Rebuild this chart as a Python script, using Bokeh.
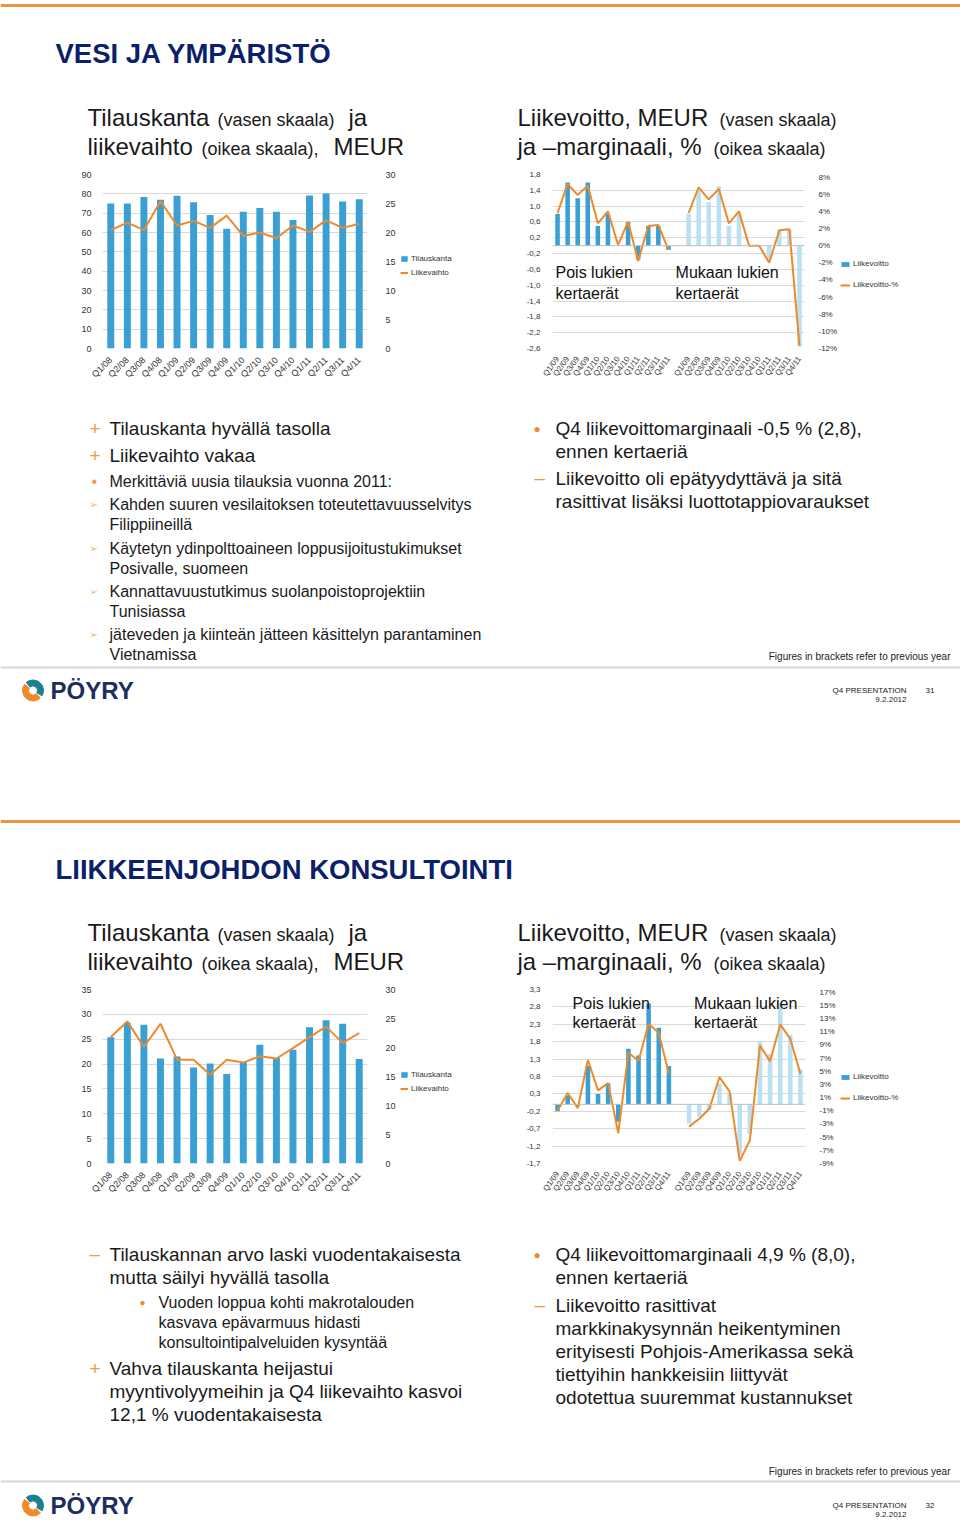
import math
from bokeh.plotting import figure
from bokeh.layouts import column, row
from bokeh.models import (Range1d, FactorRange, LinearAxis, FixedTicker, CustomJSTickFormatter,
                          Legend, LegendItem, Label, Span)
from bokeh.core.properties import value
from bokeh.embed import file_html
from bokeh.resources import INLINE

# ---------------- data ----------------
quarters_08_11 = ["Q1/08", "Q2/08", "Q3/08", "Q4/08", "Q1/09", "Q2/09", "Q3/09", "Q4/09",
                  "Q1/10", "Q2/10", "Q3/10", "Q4/10", "Q1/11", "Q2/11", "Q3/11", "Q4/11"]
quarters_09_11 = ["Q1/09", "Q2/09", "Q3/09", "Q4/09", "Q1/10", "Q2/10", "Q3/10", "Q4/10",
                  "Q1/11", "Q2/11", "Q3/11", "Q4/11"]

# Vesi ja ympäristö
vesi_tilauskanta = [75, 75, 78.3, 77, 79, 75.7, 69, 62, 70.7, 72.7, 70.7, 66.5, 79.2, 80.2, 76, 77.2]
vesi_liikevaihto = [20.4, 21.7, 20.4, 25.4, 21.2, 22.0, 20.8, 22.9, 19.4, 20.0, 19.0, 21.2, 20.1, 22.1, 20.8, 21.5]
vesi_lv_excl = [0.8, 1.6, 1.2, 1.6, 0.5, 0.8, 0.0, 0.6, -0.35, 0.5, 0.5, -0.1]
vesi_lvpct_excl = [3.8, 7.2, 5.9, 7.0, 2.6, 4.0, 0.1, 2.8, -1.8, 2.3, 2.4, -0.5]
vesi_lv_incl = [0.8, 1.4, 1.1, 1.5, 0.5, 0.8, 0.0, 0.0, -0.35, 0.4, 0.4, -2.55]
vesi_lvpct_incl = [3.8, 6.8, 5.4, 6.6, 2.6, 4.0, 0.0, 0.0, -2.0, 1.8, 1.9, -11.7]

# Liikkeenjohdon konsultointi
lj_tilauskanta = [25.4, 28.3, 27.9, 21.1, 21.5, 19.3, 20.1, 18.0, 20.4, 23.9, 21.2, 22.9, 27.4, 28.8, 28.1, 21.0]
lj_liikevaihto = [21.8, 24.5, 20.1, 24.1, 17.9, 17.9, 15.3, 17.9, 17.4, 18.5, 18.1, 19.9, 21.8, 23.6, 20.8, 22.5]
lj_lv_excl = [-0.2, 0.25, -0.05, 1.1, 0.3, 0.6, -0.5, 1.6, 1.4, 2.9, 2.2, 1.1]
lj_lvpct_excl = [-1.0, 1.7, -0.6, 6.7, 2.1, 3.2, -4.4, 7.8, 6.6, 12.2, 10.8, 4.6]
lj_lv_incl = [-0.55, -0.35, -0.15, 0.6, 0.3, -1.45, -0.85, 1.8, 1.45, 2.9, 2.0, 1.0]
lj_lvpct_incl = [-3.4, -2.2, -0.7, 4.1, 1.9, -8.6, -5.5, 8.9, 6.5, 12.1, 9.9, 4.6]

# tick labels
vesi_order_ticks = [0, 10, 20, 30, 40, 50, 60, 70, 80, 90]
lj_order_ticks = [0, 5, 10, 15, 20, 25, 30, 35]
sales_ticks = [0, 5, 10, 15, 20, 25, 30]
vesi_ebit_ticks = [-2.6, -2.2, -1.8, -1.4, -1.0, -0.6, -0.2, 0.2, 0.6, 1.0, 1.4, 1.8]
vesi_pct_ticks = [-12, -10, -8, -6, -4, -2, 0, 2, 4, 6, 8]
lj_ebit_ticks = [-1.7, -1.2, -0.7, -0.2, 0.3, 0.8, 1.3, 1.8, 2.3, 2.8, 3.3]
lj_pct_ticks = [-9, -7, -5, -3, -1, 1, 3, 5, 7, 9, 11, 13, 15, 17]

# ---------------- style ----------------
BLUE = "#3a9fd3"
LIGHT = "#b9e0f3"
ORANGE = "#ec8a2c"
BULLET = "#f29a3f"
GRID = "#d9d9d9"
AXTXT = "#333333"
NAVY = "#0c1f6b"
DARK = "#1a1a1a"
FONT = "Liberation Sans"
W = 960
NAN = float("nan")


def style_axis(ax, size="8px"):
    ax.axis_line_color = None
    ax.major_tick_line_color = None
    ax.minor_tick_line_color = None
    ax.major_label_text_font = FONT
    ax.major_label_text_font_size = size
    ax.major_label_text_color = AXTXT


def blank(width, height, xr, yr):
    p = figure(width=width, height=height, x_range=xr, y_range=yr,
               output_backend="svg", toolbar_location=None, min_border=0,
               x_axis_location=None, y_axis_location=None)
    p.grid.visible = False
    p.outline_line_color = None
    return p


def canvas(y0, h):
    return blank(W, h, Range1d(0, W), Range1d(y0 + h, y0))


def txt(p, x, y, s, size, color=DARK, align="left", bold=False, font=FONT):
    p.add_layout(Label(x=x, y=y, text=s, text_font=font, text_font_size=f"{size}px",
                       text_color=color, text_align=align, text_baseline="middle",
                       text_font_style="bold" if bold else "normal"))


def legend_fig(width, height, spec, loc, spacing, gw, gh):
    # legend-only panel: the swatches reuse the chart's styles (no visible data)
    p = blank(width, height, Range1d(0, 1), Range1d(0, 1))
    items = []
    for label, kind, color in spec:
        if kind == "bar":
            r = p.vbar(x=[NAN], top=[NAN], width=0.5, fill_color=color, line_color=None)
        else:
            r = p.line(x=[NAN, NAN], y=[NAN, NAN], line_color=color, line_width=2)
        items.append(LegendItem(label=label, renderers=[r]))
    p.add_layout(Legend(items=items, location=loc, margin=0, padding=0, spacing=spacing,
                        glyph_width=gw, glyph_height=gh, label_height=8, label_width=10,
                        label_standoff=3, label_text_font=FONT, label_text_font_size="8px",
                        label_text_color=AXTXT, label_text_baseline="middle",
                        border_line_color=None, background_fill_alpha=0))
    return p


def order_chart(h, top, lmax, lticks, bars, line):
    p = figure(width=398, height=h, x_range=FactorRange(factors=quarters_08_11),
               y_range=Range1d(0, lmax), output_backend="svg", toolbar_location=None,
               min_border_left=102, min_border_right=28, min_border_top=top,
               min_border_bottom=h - top - 180)
    p.extra_y_ranges = {"r": Range1d(0, 30)}
    p.outline_line_color = None
    p.xgrid.grid_line_color = None
    tk = FixedTicker(ticks=lticks)
    p.yaxis.ticker = tk
    p.ygrid.ticker = tk
    p.ygrid.grid_line_color = GRID
    style_axis(p.yaxis[0], "9px")
    p.yaxis.major_label_standoff = 5
    style_axis(p.xaxis[0], "9px")
    p.xaxis.major_label_orientation = math.pi / 4
    p.xaxis.major_label_standoff = 4
    p.vbar(x=quarters_08_11, top=bars, width=0.42, fill_color=BLUE, line_color=None)
    p.line(x=quarters_08_11, y=line, y_range_name="r", line_color=ORANGE, line_width=2)
    rax = LinearAxis(y_range_name="r", ticker=FixedTicker(ticks=sales_ticks))
    style_axis(rax, "9px")
    rax.major_label_standoff = 12
    p.add_layout(rax, "right")
    return p


def ebit_chart(h, top, lrange, lticks, rrange, rticks, excl, excl_pct, incl, incl_pct, ann):
    fa = [("a", q) for q in quarters_09_11]
    fb = [("b", q) for q in quarters_09_11]
    p = figure(width=367, height=h, x_range=FactorRange(factors=fa + fb, group_padding=1.0),
               y_range=Range1d(*lrange), output_backend="svg", toolbar_location=None,
               min_border_left=79, min_border_right=35, min_border_top=top,
               min_border_bottom=h - top - 180)
    p.extra_y_ranges = {"pct": Range1d(*rrange)}
    p.outline_line_color = None
    p.xgrid.grid_line_color = None
    tk = FixedTicker(ticks=lticks)
    p.yaxis.ticker = tk
    p.ygrid.ticker = tk
    p.ygrid.grid_line_color = GRID
    style_axis(p.yaxis[0])
    p.yaxis.formatter = CustomJSTickFormatter(code="return tick.toFixed(1).replace('.', ',');")
    p.yaxis.major_label_standoff = 6
    xa = p.xaxis[0]
    style_axis(xa, "8px")
    xa.major_label_orientation = 0.95
    xa.major_label_standoff = 3
    xa.group_text_font_size = "0px"
    xa.group_text_color = None
    xa.separator_line_color = None
    p.add_layout(Span(location=0, dimension="width", line_color="#bdbdbd", line_width=1))
    p.vbar(x=fa, top=excl, width=0.45, fill_color=BLUE, line_color=None)
    p.vbar(x=fb, top=incl, width=0.45, fill_color=LIGHT, line_color=None)
    p.line(x=fa, y=excl_pct, y_range_name="pct", line_color=ORANGE, line_width=2)
    p.line(x=fb, y=incl_pct, y_range_name="pct", line_color=ORANGE, line_width=2)
    rax = LinearAxis(y_range_name="pct", ticker=FixedTicker(ticks=rticks))
    style_axis(rax)
    rax.formatter = CustomJSTickFormatter(code="return tick.toFixed(0) + '%';")
    rax.major_label_standoff = 8
    p.add_layout(rax, "right")
    (ya1, ya2, dxa), (yb1, yb2, dxb) = ann
    for fac, y1, y2, dx, t1 in ((fa[0], ya1, ya2, dxa, "Pois lukien"), (fb[0], yb1, yb2, dxb, "Mukaan lukien")):
        p.text(x=[fac, fac], y=[y1, y2], text=[t1, "kertaerät"], x_offset=dx,
               text_font=value(FONT), text_font_size="16px", text_color="#111111",
               text_baseline="middle", text_align="left")
    return p


def slide_header(y0, h, line_y, title, title_y, y1, y2):
    p = canvas(y0, h)
    p.add_layout(Span(location=line_y, dimension="width", line_color="#e9953f", line_width=3))
    txt(p, 55, title_y, title, 27.5, NAVY, bold=True)
    for x, s, sz in ((87, "Tilauskanta", 24), (217, "(vasen skaala)", 18), (348, "ja", 24)):
        txt(p, x, y1 + (2 if sz == 18 else 0), s, sz)
    for x, s, sz in ((87, "liikevaihto", 24), (201, "(oikea skaala),", 18), (333, "MEUR", 24)):
        txt(p, x, y2 + (2 if sz == 18 else 0), s, sz)
    for x, s, sz in ((517, "Liikevoitto, MEUR", 24), (719, "(vasen skaala)", 18)):
        txt(p, x, y1 + (2 if sz == 18 else 0), s, sz)
    for x, s, sz in ((517, "ja \u2013marginaali, %", 24), (713, "(oikea skaala)", 18)):
        txt(p, x, y2 + (2 if sz == 18 else 0), s, sz)
    return p


def footer(p, fig_y, sep_y, logo_y, page_no):
    txt(p, 950, fig_y, "Figures in brackets refer to previous year", 10, "#222222", align="right")
    p.add_layout(Span(location=sep_y, dimension="width", line_color="#d6d6d6", line_width=2))
    # logo mark: orange upper-left arc, teal lower-right arc
    p.annular_wedge(x=[32.5], y=[logo_y], inner_radius=4.5, outer_radius=10.5,
                    start_angle=math.radians(-215), end_angle=math.radians(-45),
                    color="#ee8a2a", direction="anticlock")
    p.annular_wedge(x=[32.5], y=[logo_y], inner_radius=4.5, outer_radius=10.5,
                    start_angle=math.radians(-30), end_angle=math.radians(130),
                    color="#1d7f94", direction="anticlock")
    txt(p, 50, logo_y, "P\u00d6YRY", 24, "#1e2c5e", bold=True)
    txt(p, 906, logo_y, "Q4 PRESENTATION", 8, "#222222", align="right")
    txt(p, 925, logo_y, page_no, 8, "#222222")
    txt(p, 906, logo_y + 9, "9.2.2012", 8, "#222222", align="right")


def bullet(p, x, y, mark, size, color=BULLET, font=FONT):
    txt(p, x, y, mark, size, color, font=font)


ORDER_LEG = [("Tilauskanta", "bar", BLUE), ("Liikevaihto", "line", ORANGE)]
EBIT_LEG = [("Liikevoitto", "bar", BLUE), ("Liikevoitto-%", "line", ORANGE)]

# ---------------- slide 1 ----------------
s1 = slide_header(0, 165, 5, "VESI JA YMP\u00c4RIST\u00d6", 53, 117, 146)

c1 = order_chart(220, 9, 90, vesi_order_ticks, vesi_tilauskanta, vesi_liikevaihto)
l1 = legend_fig(75, 220, ORDER_LEG, (2, 71), 5, 8, 7)
c2 = ebit_chart(220, 9, (-2.6, 1.8), vesi_ebit_ticks, (-12, 8.3), vesi_pct_ticks,
                vesi_lv_excl, vesi_lvpct_excl, vesi_lv_incl, vesi_lvpct_incl,
                ((-0.69, -1.21, -2), (-0.69, -1.21, -13)))
l2 = legend_fig(120, 220, EBIT_LEG, (0, 59), 12, 10, 6)

s3 = canvas(385, 335)
bullet(s3, 89, 428, "+", 19)
txt(s3, 109, 428, "Tilauskanta hyvällä tasolla", 19)
bullet(s3, 89, 455, "+", 19)
txt(s3, 109, 455, "Liikevaihto vakaa", 19)
bullet(s3, 91, 481, "\u2022", 16)
txt(s3, 109, 481, "Merkittäviä uusia tilauksia vuonna 2011:", 16)
left_sub = [
    (504, "Kahden suuren vesilaitoksen toteutettavuusselvitys", "Filippiineillä"),
    (548, "Käytetyn ydinpolttoaineen loppusijoitustukimukset", "Posivalle, suomeen"),
    (591, "Kannattavuustutkimus suolanpoistoprojektiin", "Tunisiassa"),
    (634, "jäteveden ja kiinteän jätteen käsittelyn parantaminen", "Vietnamissa"),
]
for y, a, b in left_sub:
    bullet(s3, 89, y, "\u27a2", 10, "#f3b26c", font="DejaVu Sans")
    txt(s3, 109, y, a, 16)
    txt(s3, 109, y + 20, b, 16)
bullet(s3, 533, 428, "\u25cf", 12, "#f08a24")
txt(s3, 555, 428, "Q4 liikevoittomarginaali -0,5 % (2,8),", 19)
txt(s3, 555, 451, "ennen kertaeriä", 19)
bullet(s3, 534, 477, "\u2013", 19)
txt(s3, 555, 478, "Liikevoitto oli epätyydyttävä ja sitä", 19)
txt(s3, 555, 501, "rasittivat lisäksi luottotappiovaraukset", 19)
footer(s3, 656, 667, 690, "31")

# ---------------- slide 2 ----------------
s4 = slide_header(720, 265, 821, "LIIKKEENJOHDON KONSULTOINTI", 869, 932, 961)

c3 = order_chart(215, 4, 35, lj_order_ticks, lj_tilauskanta, lj_liikevaihto)
l3 = legend_fig(75, 215, ORDER_LEG, (2, 70), 5, 8, 7)
c4 = ebit_chart(215, 4, (-1.7, 3.3), lj_ebit_ticks, (-9.0, 17.4), lj_pct_ticks,
                lj_lv_excl, lj_lvpct_excl, lj_lv_incl, lj_lvpct_incl,
                ((2.91, 2.36, 15), (2.91, 2.36, 5)))
l4 = legend_fig(120, 215, EBIT_LEG, (0, 61), 12, 10, 6)

s6 = canvas(1200, 321)
bullet(s6, 89, 1253, "\u2013", 19)
txt(s6, 109, 1254, "Tilauskannan arvo laski vuodentakaisesta", 19)
txt(s6, 109, 1277, "mutta säilyi hyvällä tasolla", 19)
bullet(s6, 139, 1302, "\u25cf", 10, "#f08a24")
txt(s6, 158, 1302, "Vuoden loppua kohti makrotalouden", 16)
txt(s6, 158, 1322, "kasvava epävarmuus hidasti", 16)
txt(s6, 158, 1342, "konsultointipalveluiden kysyntää", 16)
bullet(s6, 89, 1368, "+", 19)
txt(s6, 109, 1368, "Vahva tilauskanta heijastui", 19)
txt(s6, 109, 1391, "myyntivolyymeihin ja Q4 liikevaihto kasvoi", 19)
txt(s6, 109, 1414, "12,1 % vuodentakaisesta", 19)
bullet(s6, 533, 1254, "\u25cf", 12, "#f08a24")
txt(s6, 555, 1254, "Q4 liikevoittomarginaali 4,9 %  (8,0),", 19)
txt(s6, 555, 1277, "ennen kertaeriä", 19)
bullet(s6, 534, 1304, "\u2013", 19)
for i, s in enumerate(["Liikevoitto rasittivat", "markkinakysynnän heikentyminen",
                       "erityisesti Pohjois-Amerikassa sekä", "tiettyihin hankkeisiin liittyvät",
                       "odotettua suuremmat kustannukset"]):
    txt(s6, 555, 1305 + 23 * i, s, 19)
footer(s6, 1471, 1481, 1505, "32")

layout = column(s1, row(c1, l1, c2, l2), s3, s4, row(c3, l3, c4, l4), s6)

with open("out.html", "w") as f:
    f.write(file_html(layout, INLINE))
